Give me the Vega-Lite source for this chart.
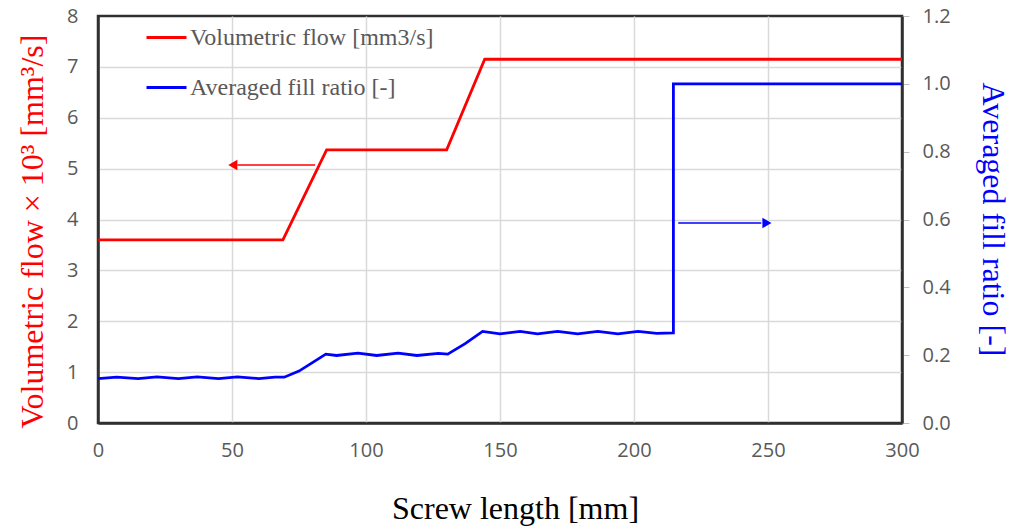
{
  "$schema": "https://vega.github.io/schema/vega-lite/v6.json",
  "width": 804,
  "height": 407,
  "autosize": {"type": "none"},
  "padding": {"left": 98, "top": 16, "right": 111, "bottom": 104},
  "background": "white",
  "config": {
    "view": {"stroke": "#303030", "strokeWidth": 2.5},
    "axis": {
      "labelFont": "Open Sans",
      "labelFontSize": 20,
      "labelColor": "#595959",
      "gridColor": "#d9d9d9",
      "gridWidth": 1.5,
      "domain": true,
      "domainColor": "#303030",
      "domainWidth": 2.5,
      "titleFont": "Liberation Serif",
      "titleFontWeight": "normal",
      "titleFontSize": 32
    },
    "legend": {
      "labelFont": "Liberation Serif",
      "labelFontSize": 24,
      "labelColor": "#595959",
      "labelLimit": 500,
      "padding": 0
    }
  },
  "datasets": {
    "flow": [
      {"x": 0, "v": 3.6, "s": "Volumetric flow [mm3/s]"},
      {"x": 69, "v": 3.6, "s": "Volumetric flow [mm3/s]"},
      {"x": 85.3, "v": 5.37, "s": "Volumetric flow [mm3/s]"},
      {"x": 130.1, "v": 5.37, "s": "Volumetric flow [mm3/s]"},
      {"x": 144.3, "v": 7.15, "s": "Volumetric flow [mm3/s]"},
      {"x": 300, "v": 7.15, "s": "Volumetric flow [mm3/s]"}
    ],
    "fill": [
      {"i": 1, "x": 0, "r": 0.131, "s": "Averaged fill ratio [-]"},
      {"i": 2, "x": 7, "r": 0.135, "s": "Averaged fill ratio [-]"},
      {"i": 3, "x": 15, "r": 0.131, "s": "Averaged fill ratio [-]"},
      {"i": 4, "x": 22, "r": 0.136, "s": "Averaged fill ratio [-]"},
      {"i": 5, "x": 30, "r": 0.131, "s": "Averaged fill ratio [-]"},
      {"i": 6, "x": 37, "r": 0.136, "s": "Averaged fill ratio [-]"},
      {"i": 7, "x": 45, "r": 0.131, "s": "Averaged fill ratio [-]"},
      {"i": 8, "x": 52, "r": 0.136, "s": "Averaged fill ratio [-]"},
      {"i": 9, "x": 60, "r": 0.131, "s": "Averaged fill ratio [-]"},
      {"i": 10, "x": 66, "r": 0.135, "s": "Averaged fill ratio [-]"},
      {"i": 11, "x": 69.5, "r": 0.135, "s": "Averaged fill ratio [-]"},
      {"i": 12, "x": 75, "r": 0.153, "s": "Averaged fill ratio [-]"},
      {"i": 13, "x": 80, "r": 0.178, "s": "Averaged fill ratio [-]"},
      {"i": 14, "x": 85, "r": 0.203, "s": "Averaged fill ratio [-]"},
      {"i": 15, "x": 89, "r": 0.199, "s": "Averaged fill ratio [-]"},
      {"i": 16, "x": 97, "r": 0.206, "s": "Averaged fill ratio [-]"},
      {"i": 17, "x": 104, "r": 0.199, "s": "Averaged fill ratio [-]"},
      {"i": 18, "x": 112, "r": 0.206, "s": "Averaged fill ratio [-]"},
      {"i": 19, "x": 119, "r": 0.199, "s": "Averaged fill ratio [-]"},
      {"i": 20, "x": 127, "r": 0.205, "s": "Averaged fill ratio [-]"},
      {"i": 21, "x": 130.5, "r": 0.203, "s": "Averaged fill ratio [-]"},
      {"i": 22, "x": 137, "r": 0.234, "s": "Averaged fill ratio [-]"},
      {"i": 23, "x": 143.5, "r": 0.270, "s": "Averaged fill ratio [-]"},
      {"i": 24, "x": 150, "r": 0.263, "s": "Averaged fill ratio [-]"},
      {"i": 25, "x": 157.5, "r": 0.270, "s": "Averaged fill ratio [-]"},
      {"i": 26, "x": 164, "r": 0.263, "s": "Averaged fill ratio [-]"},
      {"i": 27, "x": 171.5, "r": 0.270, "s": "Averaged fill ratio [-]"},
      {"i": 28, "x": 179, "r": 0.263, "s": "Averaged fill ratio [-]"},
      {"i": 29, "x": 186.5, "r": 0.270, "s": "Averaged fill ratio [-]"},
      {"i": 30, "x": 194, "r": 0.263, "s": "Averaged fill ratio [-]"},
      {"i": 31, "x": 201.5, "r": 0.270, "s": "Averaged fill ratio [-]"},
      {"i": 32, "x": 208.5, "r": 0.264, "s": "Averaged fill ratio [-]"},
      {"i": 33, "x": 214.7, "r": 0.266, "s": "Averaged fill ratio [-]"},
      {"i": 34, "x": 214.7, "r": 1.0, "s": "Averaged fill ratio [-]"},
      {"i": 35, "x": 300, "r": 1.0, "s": "Averaged fill ratio [-]"}
    ],
    "redArrow": [{"x": 52, "x2": 81, "y": 5.07, "hx": 50.3}],
    "blueArrow": [{"x": 216.5, "x2": 247.5, "y": 0.59, "hx": 249.6}]
  },
  "encoding": {
    "x": {
      "field": "x",
      "type": "quantitative",
      "scale": {"domain": [0, 300], "nice": false},
      "axis": {
        "values": [0, 50, 100, 150, 200, 250, 300],
        "title": "Screw length [mm]",
        "titleColor": "#000000",
        "ticks": false,
        "labelFlush": false,
        "labelPadding": 17,
        "gridOpacity": {"condition": {"test": "datum.value == 0 || datum.value == 300", "value": 0}, "value": 1},
        "titleX": 417,
        "titleY": 85,
        "titleBaseline": "middle",
        "titleAlign": "center"
      }
    }
  },
  "layer": [
    {
      "layer": [
        {
          "data": {"name": "flow"},
          "mark": {"type": "line", "strokeWidth": 2.8},
          "encoding": {
            "y": {
              "field": "v",
              "type": "quantitative",
              "scale": {"domain": [0, 8], "nice": false},
              "axis": {
                "orient": "left",
                "values": [0, 1, 2, 3, 4, 5, 6, 7, 8],
                "title": "Volumetric flow × 10³ [mm³/s]",
                "titleColor": "#ff0000",
                "ticks": false,
                "labelPadding": 20,
                "labelFlush": false,
                "gridOpacity": {"condition": {"test": "datum.value == 0 || datum.value == 8", "value": 0}, "value": 1},
                "titleX": -66,
                "titleY": 215,
                "titleAngle": -90,
                "titleBaseline": "middle",
                "titleAlign": "center"
              }
            },
            "color": {
              "field": "s",
              "type": "nominal",
              "scale": {
                "domain": ["Volumetric flow [mm3/s]", "Averaged fill ratio [-]"],
                "range": ["#ff0000", "#0000ff"]
              },
              "legend": {
                "title": null,
                "orient": "none",
                "legendX": 47,
                "legendY": 0,
                "symbolType": "stroke",
                "symbolSize": 1600,
                "symbolStrokeWidth": 3,
                "labelOffset": 2,
                "rowPadding": 16
              }
            }
          }
        },
        {
          "data": {"name": "redArrow"},
          "mark": {"type": "rule", "color": "#ff0000", "strokeWidth": 1.5},
          "encoding": {
            "x": {"field": "x", "type": "quantitative"},
            "x2": {"field": "x2"},
            "y": {"field": "y", "type": "quantitative"}
          }
        },
        {
          "data": {"name": "redArrow"},
          "mark": {"type": "point", "shape": "triangle-left", "filled": true, "color": "#ff0000", "size": 110, "opacity": 1},
          "encoding": {
            "x": {"field": "hx", "type": "quantitative"},
            "y": {"field": "y", "type": "quantitative"}
          }
        }
      ]
    },
    {
      "layer": [
        {
          "data": {"name": "fill"},
          "mark": {"type": "line", "strokeWidth": 2.8},
          "encoding": {
            "y": {
              "field": "r",
              "type": "quantitative",
              "scale": {"domain": [0, 1.2], "nice": false},
              "axis": {
                "orient": "right",
                "values": [0, 0.2, 0.4, 0.6, 0.8, 1.0, 1.2],
                "format": ".1f",
                "grid": false,
                "title": "Averaged fill ratio [-]",
                "titleColor": "#0000ff",
                "ticks": true,
                "tickSize": 7,
                "tickColor": "#bfbfbf",
                "labelPadding": 13,
                "labelFlush": false,
                "titleX": 90,
                "titleY": 203,
                "titleAngle": 90,
                "titleBaseline": "middle",
                "titleAlign": "center"
              }
            },
            "order": {"field": "i", "type": "quantitative"},
            "color": {"field": "s", "type": "nominal"}
          }
        },
        {
          "data": {"name": "blueArrow"},
          "mark": {"type": "rule", "color": "#0000ff", "strokeWidth": 1.5},
          "encoding": {
            "x": {"field": "x", "type": "quantitative"},
            "x2": {"field": "x2"},
            "y": {"field": "y", "type": "quantitative"}
          }
        },
        {
          "data": {"name": "blueArrow"},
          "mark": {"type": "point", "shape": "triangle-right", "filled": true, "color": "#0000ff", "size": 110, "opacity": 1},
          "encoding": {
            "x": {"field": "hx", "type": "quantitative"},
            "y": {"field": "y", "type": "quantitative"}
          }
        }
      ]
    }
  ],
  "resolve": {"scale": {"y": "independent"}}
}
